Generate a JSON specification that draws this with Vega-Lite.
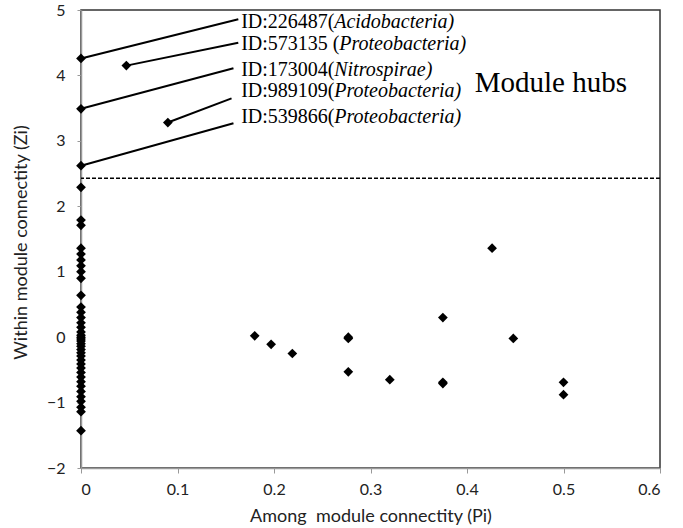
{
  "$schema": "https://vega.github.io/schema/vega-lite/v6.json",
  "width": 579,
  "height": 458,
  "autosize": {"type": "none"},
  "padding": {"left": 81, "top": 10, "right": 23, "bottom": 60},
  "background": "white",
  "config": {
    "view": {"stroke": "#333", "strokeWidth": 1.5},
    "axis": {
      "grid": false,
      "domainColor": "#999",
      "domainWidth": 1.5,
      "tickColor": "#999",
      "tickWidth": 1,
      "labelFont": "Lato",
      "labelFontSize": 16,
      "labelColor": "#222",
      "titleFont": "Lato",
      "titleFontSize": 18,
      "titleFontWeight": "normal",
      "titleColor": "#222"
    }
  },
  "datasets": {
    "pts": [
      {"pi": 0, "zi": 4.26}, {"pi": 0, "zi": 3.49}, {"pi": 0, "zi": 2.62},
      {"pi": 0.047, "zi": 4.15}, {"pi": 0.09, "zi": 3.28},
      {"pi": 0, "zi": 2.29}, {"pi": 0, "zi": 1.79}, {"pi": 0, "zi": 1.71},
      {"pi": 0, "zi": 1.36}, {"pi": 0, "zi": 1.27}, {"pi": 0, "zi": 1.18},
      {"pi": 0, "zi": 1.09}, {"pi": 0, "zi": 1.0}, {"pi": 0, "zi": 0.9},
      {"pi": 0, "zi": 0.64}, {"pi": 0, "zi": 0.46}, {"pi": 0, "zi": 0.38},
      {"pi": 0, "zi": 0.3}, {"pi": 0, "zi": 0.22}, {"pi": 0, "zi": 0.15},
      {"pi": 0, "zi": 0.08}, {"pi": 0, "zi": 0.03}, {"pi": 0, "zi": 0.0},
      {"pi": 0, "zi": -0.03}, {"pi": 0, "zi": -0.06}, {"pi": 0, "zi": -0.1},
      {"pi": 0, "zi": -0.14}, {"pi": 0, "zi": -0.19}, {"pi": 0, "zi": -0.24},
      {"pi": 0, "zi": -0.29}, {"pi": 0, "zi": -0.35}, {"pi": 0, "zi": -0.41},
      {"pi": 0, "zi": -0.47}, {"pi": 0, "zi": -0.54}, {"pi": 0, "zi": -0.61},
      {"pi": 0, "zi": -0.68}, {"pi": 0, "zi": -0.75}, {"pi": 0, "zi": -0.83},
      {"pi": 0, "zi": -0.91}, {"pi": 0, "zi": -0.98}, {"pi": 0, "zi": -1.07},
      {"pi": 0, "zi": -1.14}, {"pi": 0, "zi": -1.43},
      {"pi": 0.18, "zi": 0.02}, {"pi": 0.197, "zi": -0.11}, {"pi": 0.219, "zi": -0.25},
      {"pi": 0.277, "zi": -0.02}, {"pi": 0.277, "zi": 0.0}, {"pi": 0.277, "zi": -0.53},
      {"pi": 0.32, "zi": -0.65}, {"pi": 0.375, "zi": 0.3}, {"pi": 0.375, "zi": -0.71},
      {"pi": 0.375, "zi": -0.69}, {"pi": 0.426, "zi": 1.36}, {"pi": 0.448, "zi": -0.02},
      {"pi": 0.5, "zi": -0.69}, {"pi": 0.5, "zi": -0.88}
    ],
    "leaders": [
      {"x1": 0, "y1": 4.26, "x2": 0.163, "y2": 4.86},
      {"x1": 0.047, "y1": 4.15, "x2": 0.163, "y2": 4.5},
      {"x1": 0, "y1": 3.49, "x2": 0.158, "y2": 4.11},
      {"x1": 0.09, "y1": 3.28, "x2": 0.156, "y2": 3.65},
      {"x1": 0, "y1": 2.62, "x2": 0.158, "y2": 3.27}
    ],
    "labels": [
      {"row": 1, "lx": 0.166, "ly": 4.82, "prefix": "ID:226487(", "name": "Acidobacteria)"},
      {"row": 2, "lx": 0.166, "ly": 4.48, "prefix": "ID:573135 (", "name": "Proteobacteria)"},
      {"row": 3, "lx": 0.166, "ly": 4.08, "prefix": "ID:173004(", "name": "Nitrospirae)"},
      {"row": 4, "lx": 0.166, "ly": 3.76, "prefix": "ID:989109(", "name": "Proteobacteria)"},
      {"row": 5, "lx": 0.166, "ly": 3.37, "prefix": "ID:539866(", "name": "Proteobacteria)"}
    ],
    "hub": [{"tx": 0.408, "ty": 3.88, "t": "Module hubs"}],
    "thr": [{"z": 2.43}]
  },
  "layer": [
    {
      "data": {"name": "leaders"},
      "mark": {"type": "rule", "color": "black", "strokeWidth": 2},
      "encoding": {
        "x": {"field": "x1", "type": "quantitative", "scale": {"domain": [0, 0.6], "nice": false, "zero": false},
              "axis": {"values": [0, 0.1, 0.2, 0.3, 0.4, 0.5, 0.6], "format": "~g", "tickSize": 5, "labelPadding": 8,
                       "title": "Among\u00a0 module connectity (Pi)", "titleY": 53, "titleBaseline": "alphabetic"}},
        "y": {"field": "y1", "type": "quantitative", "scale": {"domain": [-2, 5], "nice": false, "zero": false},
              "axis": {"values": [-2, -1, 0, 1, 2, 3, 4, 5], "format": "d", "tickSize": 4, "labelPadding": 12,
                       "title": "Within module connectity (Zi)", "titleX": -60, "titleY": 232, "titleBaseline": "middle"}},
        "x2": {"field": "x2"},
        "y2": {"field": "y2"}
      }
    },
    {
      "data": {"name": "thr"},
      "mark": {"type": "rule", "color": "black", "strokeWidth": 1.5, "strokeDash": [4, 2]},
      "encoding": {"y": {"field": "z", "type": "quantitative"}}
    },
    {
      "data": {"name": "pts"},
      "mark": {"type": "point", "shape": "diamond", "filled": true, "color": "black", "size": 95, "opacity": 1},
      "encoding": {
        "x": {"field": "pi", "type": "quantitative"},
        "y": {"field": "zi", "type": "quantitative"}
      }
    },
    {
      "data": {"name": "labels"},
      "mark": {"type": "text", "align": "left", "baseline": "middle", "font": "Liberation Serif", "fontSize": 20, "color": "black"},
      "encoding": {
        "x": {"field": "lx", "type": "quantitative"},
        "y": {"field": "ly", "type": "quantitative"},
        "text": {"field": "prefix"}
      }
    },
    {
      "data": {"name": "labels"},
      "transform": [{"filter": "datum.row != 2"}],
      "mark": {"type": "text", "align": "left", "baseline": "middle", "font": "Liberation Serif", "fontSize": 20, "fontStyle": "italic", "color": "black", "dx": 93},
      "encoding": {
        "x": {"field": "lx", "type": "quantitative"},
        "y": {"field": "ly", "type": "quantitative"},
        "text": {"field": "name"}
      }
    },
    {
      "data": {"name": "labels"},
      "transform": [{"filter": "datum.row == 2"}],
      "mark": {"type": "text", "align": "left", "baseline": "middle", "font": "Liberation Serif", "fontSize": 20, "fontStyle": "italic", "color": "black", "dx": 98},
      "encoding": {
        "x": {"field": "lx", "type": "quantitative"},
        "y": {"field": "ly", "type": "quantitative"},
        "text": {"field": "name"}
      }
    },
    {
      "data": {"name": "hub"},
      "mark": {"type": "text", "align": "left", "baseline": "middle", "font": "Liberation Serif", "fontSize": 29, "color": "black"},
      "encoding": {
        "x": {"field": "tx", "type": "quantitative"},
        "y": {"field": "ty", "type": "quantitative"},
        "text": {"field": "t"}
      }
    }
  ]
}
